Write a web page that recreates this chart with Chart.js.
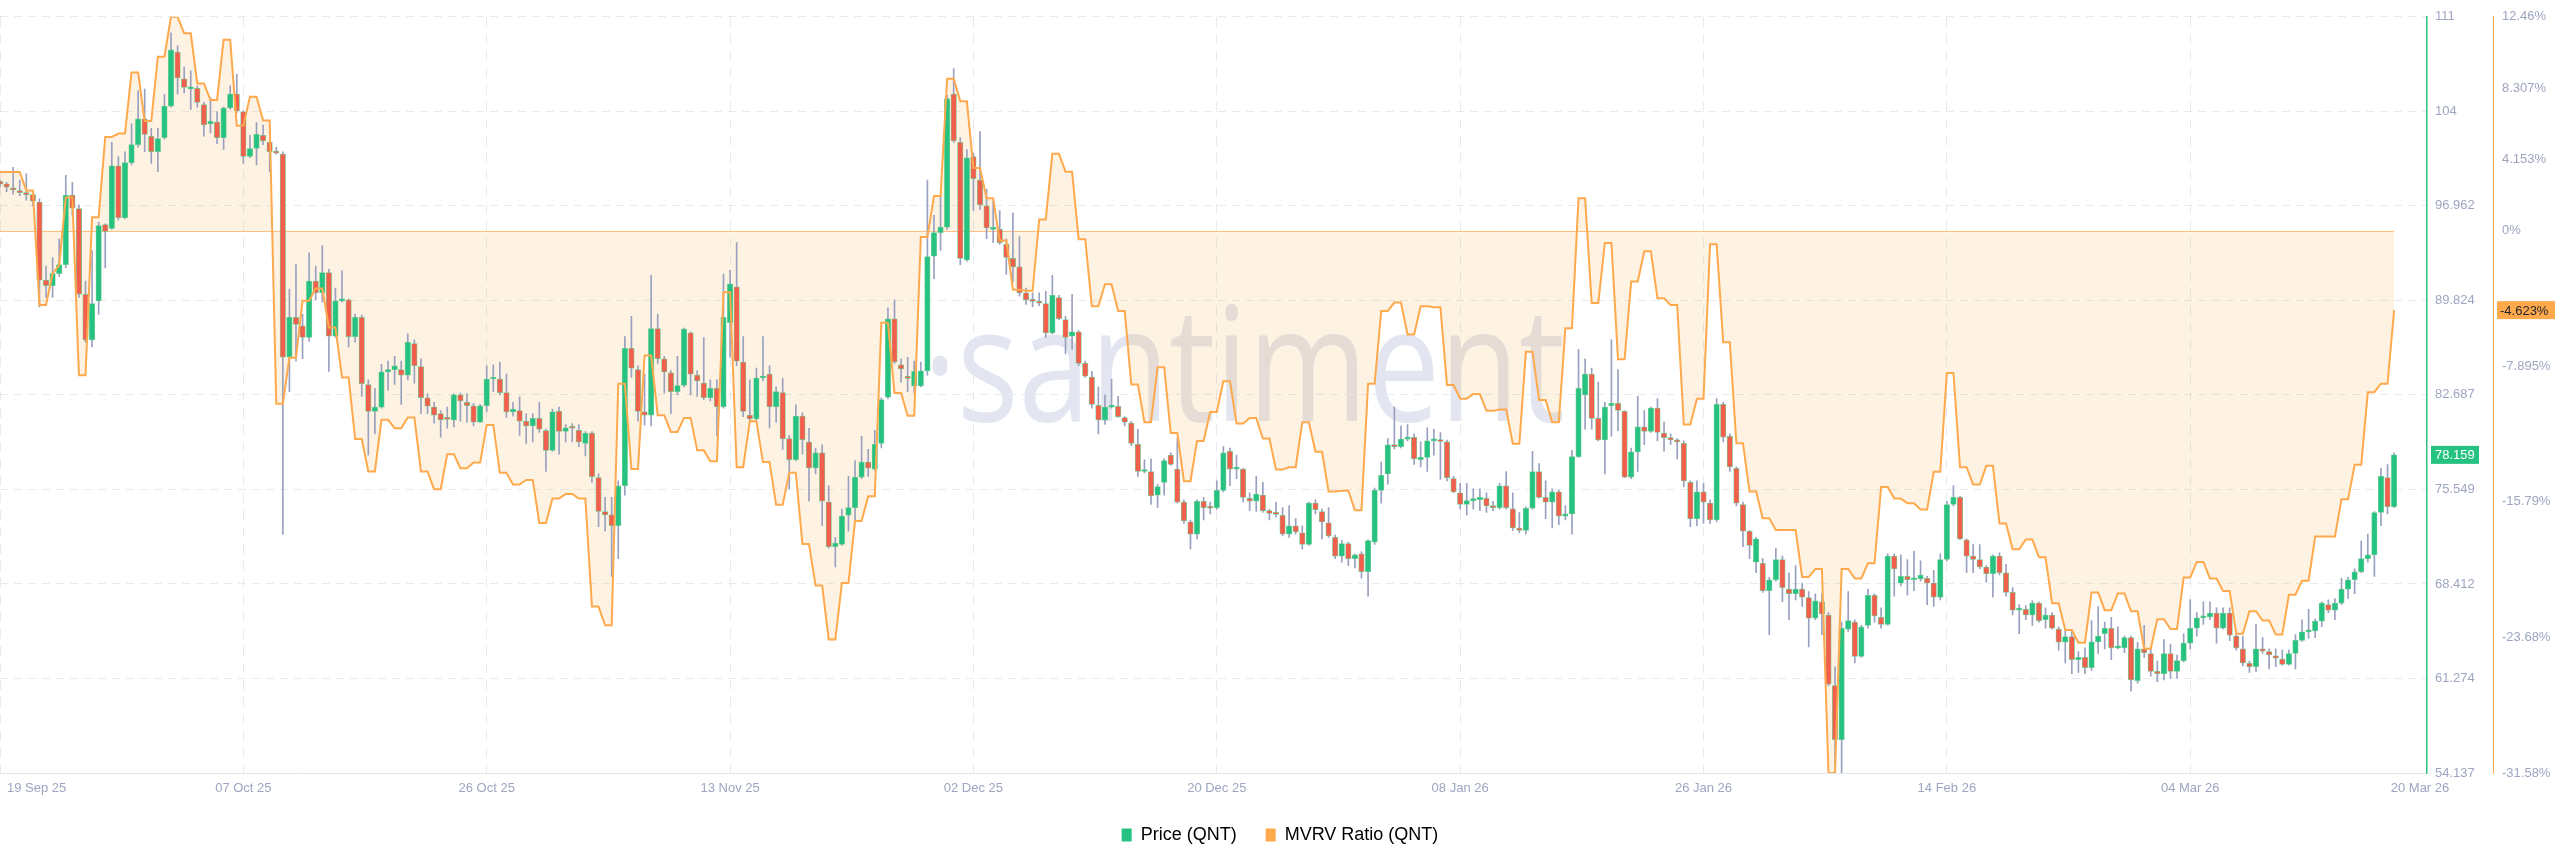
<!DOCTYPE html>
<html>
<head>
<meta charset="utf-8">
<title>QNT Price and MVRV Ratio</title>
<script src="https://cdn.jsdelivr.net/npm/chart.js@4.4.1/dist/chart.umd.min.js"></script>
<style>
  html, body { margin: 0; padding: 0; background: #ffffff; }
  #wrap { width: 2560px; height: 867px; }
  canvas { display: block; }
</style>
</head>
<body>
<div id="wrap"><canvas id="chart" width="2560" height="867"></canvas></div>
<script>
// --- Data: 12h candles, 19 Sep 25 -> 20 Mar 26 ---
const openPrice = [
  98.81,98.63,98.31,98.10,97.96,97.81,97.25,91.35,90.93,91.85,
  92.52,97.78,96.75,90.29,86.84,89.79,95.54,95.26,99.98,96.07,
  100.23,101.58,103.53,102.22,101.05,102.11,104.49,108.57,106.55,105.80,
  105.84,104.60,103.14,103.28,102.11,104.35,105.41,104.06,100.69,101.29,
  102.29,101.76,101.05,100.87,85.53,88.55,87.91,87.02,91.28,90.39,
  91.92,87.13,89.79,89.86,87.09,88.55,83.47,81.44,81.76,84.43,
  84.60,84.60,84.18,86.56,84.82,82.47,81.76,81.27,80.98,80.80,
  82.69,82.12,81.87,80.63,81.87,83.89,83.89,82.86,81.41,81.51,
  80.70,80.34,80.91,79.99,78.50,81.44,79.92,80.27,80.02,79.03,
  79.81,76.44,73.88,73.63,72.81,75.83,86.20,84.60,81.41,81.16,
  87.69,85.42,84.36,82.93,83.40,87.37,84.18,83.58,82.47,83.19,
  81.80,88.15,90.85,85.17,81.16,80.88,83.96,84.25,81.80,82.86,
  79.38,77.79,81.09,79.13,77.18,78.32,74.59,71.22,71.39,73.60,
  74.17,76.47,77.61,77.08,79.03,82.51,88.44,84.96,84.04,83.36,
  83.36,84.50,93.16,94.94,95.36,105.41,101.76,92.88,100.69,98.91,
  96.96,95.19,95.19,94.05,92.99,92.35,90.39,89.86,89.72,89.58,
  87.37,90.04,88.37,87.13,87.45,85.07,84.04,81.90,80.80,81.76,
  81.83,80.98,80.56,78.96,76.90,76.90,75.12,76.08,78.14,77.08,
  74.59,73.10,72.18,74.66,74.17,74.17,75.48,78.43,77.08,77.08,
  74.88,74.66,75.12,73.95,73.74,73.60,72.18,72.81,72.28,71.39,
  74.52,73.88,73.03,71.93,70.51,71.46,70.33,70.68,69.33,71.57,
  75.48,76.72,78.92,78.78,79.35,79.49,77.79,77.97,79.21,79.28,
  79.14,76.37,75.30,74.41,74.70,74.77,74.88,74.31,74.17,75.83,
  74.09,72.64,72.46,74.13,76.90,74.95,74.59,75.37,73.53,73.70,
  78.03,82.69,84.25,80.91,79.28,81.87,82.05,81.44,76.47,78.39,
  80.27,79.92,81.69,79.81,79.46,79.28,79.03,76.08,73.35,75.37,
  74.52,73.24,81.97,79.56,77.15,74.41,72.39,70.05,69.97,67.91,
  68.73,70.26,68.02,67.67,68.02,67.38,65.82,67.06,66.07,60.74,
  56.66,65.00,65.53,62.94,65.29,67.56,65.89,65.36,70.51,68.48,
  68.98,68.73,68.80,68.84,68.48,67.42,70.26,74.41,74.95,71.75,
  70.51,70.26,69.69,69.19,70.51,69.26,67.77,66.43,66.50,66.07,
  66.96,65.71,66.07,65.00,64.01,64.43,62.69,62.87,62.09,64.04,
  64.65,65.07,63.58,63.58,64.36,61.10,63.51,63.16,61.81,61.63,
  63.16,61.81,62.62,63.94,65.07,65.85,65.92,66.21,65.07,66.21,
  64.47,63.51,62.41,62.16,63.51,63.30,62.98,62.73,62.34,63.16,
  64.15,64.79,64.86,65.61,66.85,66.43,66.96,68.02,68.73,69.33,
  70.33,70.61,73.81,76.44,74.24
];
const highPrice = [
  98.91,98.74,99.87,98.91,99.38,98.03,97.49,92.42,93.06,94.48,
  99.27,98.74,97.03,91.28,93.59,95.72,95.61,101.76,100.69,101.05,
  103.18,105.66,105.77,102.82,102.82,105.38,110.03,109.04,107.44,107.15,
  106.02,104.77,105.13,104.06,104.42,106.02,106.91,104.13,102.29,103.25,
  103.07,101.83,101.40,101.05,90.68,92.52,88.79,93.41,92.42,93.94,
  92.17,90.75,92.06,89.93,88.79,88.72,83.82,83.19,84.99,85.24,
  85.60,85.24,87.30,86.84,85.42,82.76,82.12,81.51,81.76,82.76,
  82.83,82.76,82.05,81.98,84.89,84.96,85.17,84.25,82.12,82.54,
  81.27,81.27,82.12,80.09,81.62,81.76,80.45,80.52,80.45,79.92,
  79.92,76.72,74.95,74.95,76.19,87.09,88.62,84.89,84.25,91.71,
  88.79,85.60,84.53,85.60,87.73,87.45,84.53,87.02,83.82,83.82,
  91.81,92.10,94.19,87.09,83.82,84.71,87.09,84.89,83.29,83.93,
  79.63,81.94,81.34,80.17,78.68,78.92,75.83,71.93,74.06,76.54,
  77.72,79.56,78.57,80.02,82.47,89.26,89.86,85.42,85.53,85.24,
  85.17,98.91,96.25,97.74,105.31,107.33,102.11,101.22,100.94,102.57,
  98.20,97.32,96.61,94.48,96.43,94.65,90.75,90.39,90.39,90.50,
  91.71,90.21,88.62,90.29,87.55,85.24,84.46,83.29,82.69,83.89,
  82.58,81.05,80.70,80.09,77.79,77.86,75.94,77.86,78.32,79.38,
  74.77,73.24,74.77,74.95,74.59,76.19,78.78,78.68,78.14,77.15,
  75.30,76.54,76.08,74.06,74.59,74.17,74.31,73.35,72.81,74.59,
  74.77,74.06,74.17,72.11,71.68,71.57,70.68,70.86,71.75,75.66,
  77.61,79.38,81.76,80.34,80.45,79.74,79.14,80.20,80.09,79.85,
  79.28,76.54,76.01,76.01,75.59,75.59,75.30,74.66,76.01,76.90,
  75.30,73.81,74.24,78.43,77.50,76.19,75.59,75.48,74.31,78.50,
  86.13,85.42,84.71,83.65,82.12,86.84,84.60,81.51,78.68,82.58,
  81.51,81.76,82.40,80.63,79.74,79.38,79.21,76.19,76.19,76.01,
  74.77,82.40,82.12,79.74,77.25,74.59,72.46,71.93,70.33,68.91,
  71.11,70.51,69.26,69.80,68.48,67.84,67.67,67.67,66.25,62.16,
  65.53,67.84,65.71,65.29,68.02,67.67,66.60,70.68,70.68,70.61,
  70.26,70.90,70.15,68.98,69.44,70.68,74.66,75.83,75.02,71.82,
  71.39,71.39,69.80,70.61,70.76,69.90,68.13,66.85,66.78,67.14,
  67.06,66.60,66.25,65.18,64.83,64.83,63.30,63.58,65.64,66.71,
  65.53,65.89,65.18,64.47,64.47,64.01,65.29,63.51,62.59,64.22,
  63.87,63.05,64.65,67.21,66.25,67.06,67.06,66.60,66.60,66.60,
  64.65,64.47,62.59,65.36,64.36,63.51,63.51,63.41,63.41,64.58,
  65.71,66.50,65.78,67.06,67.21,67.31,68.84,68.91,69.55,71.64,
  72.18,73.88,77.15,77.43,78.32
];
const lowPrice = [
  98.38,98.03,97.85,97.74,97.39,96.96,89.33,90.04,90.04,91.64,
  92.28,96.25,90.04,86.66,86.31,88.79,92.28,95.19,95.90,96.00,
  100.05,101.40,101.05,100.16,99.55,102.00,104.42,105.41,105.48,104.24,
  104.42,102.22,102.47,101.65,101.22,104.24,103.99,100.16,100.60,100.05,
  101.58,99.52,100.87,72.18,82.93,85.25,85.42,86.74,89.86,89.68,
  84.46,87.02,89.68,86.31,86.66,82.58,78.14,79.74,81.69,83.04,
  83.47,81.97,83.82,83.58,81.27,81.27,80.56,79.49,80.17,80.27,
  80.70,80.63,80.34,80.60,81.41,82.93,82.69,80.98,81.09,79.63,
  79.03,79.14,79.85,76.90,78.43,78.21,79.14,79.14,78.78,78.07,
  76.08,72.74,72.39,68.98,70.33,75.12,84.00,80.70,80.41,80.34,
  85.07,82.83,81.27,82.69,83.29,82.69,82.58,82.33,82.23,79.63,
  81.69,85.53,84.89,81.05,80.63,80.80,83.75,80.20,80.63,78.57,
  75.59,77.72,78.21,74.66,76.72,72.81,71.11,69.69,71.32,72.39,
  73.17,76.37,76.54,77.01,78.68,82.40,85.07,83.65,82.93,82.83,
  83.29,84.18,91.46,93.59,95.19,101.76,92.52,92.77,96.61,96.68,
  94.48,94.19,94.05,91.81,91.21,90.14,89.51,89.33,89.43,87.02,
  87.30,88.37,85.78,86.13,84.89,84.00,81.69,79.74,80.45,81.69,
  80.98,80.34,78.85,76.54,76.79,74.41,74.17,75.12,77.36,74.52,
  72.99,71.04,71.82,73.24,73.70,74.06,75.37,75.83,76.37,74.59,
  73.95,73.88,73.81,73.24,73.45,72.04,71.93,72.18,71.04,71.32,
  73.70,71.82,71.93,70.33,70.05,69.80,69.62,68.84,67.49,71.39,
  74.52,75.94,78.60,78.68,79.21,77.43,77.25,76.90,78.14,76.30,
  76.19,75.30,74.06,73.60,74.06,73.95,73.81,73.95,74.06,74.06,
  72.46,72.28,72.18,74.06,74.88,73.35,72.64,72.89,73.24,72.18,
  77.96,80.09,80.09,79.21,76.72,79.56,79.99,76.44,76.37,76.90,
  78.92,79.85,79.21,78.43,78.92,77.86,75.73,72.74,72.81,73.00,
  72.99,73.10,79.14,76.90,74.31,71.22,70.33,69.26,67.77,64.58,
  68.62,67.07,65.71,67.21,66.71,63.65,65.71,64.58,60.74,54.70,
  54.14,64.83,62.45,62.87,65.07,65.53,65.07,65.29,67.49,68.27,
  67.56,67.91,68.62,66.85,66.71,67.21,70.15,74.31,71.75,69.26,
  69.26,69.55,68.55,67.42,69.09,67.49,66.07,64.65,65.71,65.29,
  65.53,65.07,65.00,63.41,62.45,61.63,61.74,61.63,61.88,63.16,
  63.51,62.69,63.51,63.23,60.32,60.92,62.87,61.45,61.03,61.17,
  61.28,61.28,62.52,63.51,64.47,65.36,65.71,63.94,65.00,64.12,
  63.41,62.23,61.74,61.81,63.16,61.99,62.16,62.27,62.27,61.99,
  64.08,64.29,64.36,65.18,66.25,65.71,66.85,67.31,67.67,69.26,
  70.05,68.98,72.81,73.70,74.17
];
const closePrice = [
  98.60,98.38,98.17,97.96,97.81,97.32,91.35,90.93,91.85,92.52,
  97.78,96.78,90.29,86.84,89.58,95.47,95.04,99.98,96.07,100.23,
  101.58,103.53,102.36,101.05,102.04,104.49,108.75,106.62,105.91,105.91,
  104.77,103.07,103.35,102.11,104.35,105.41,104.13,100.69,101.29,102.36,
  101.86,101.05,100.94,85.53,88.55,88.01,87.02,91.28,90.39,91.92,
  87.13,89.79,89.86,87.09,88.55,83.54,81.44,81.76,84.43,84.60,
  84.89,84.18,86.66,84.89,82.47,81.83,81.16,80.80,80.84,82.69,
  82.23,81.87,80.63,81.87,83.89,83.96,82.86,81.41,81.59,80.70,
  80.34,80.91,80.09,78.50,81.41,79.92,80.20,80.17,79.14,79.81,
  76.51,73.88,73.63,72.81,75.83,86.20,84.71,81.44,81.16,87.69,
  85.42,84.43,82.93,83.40,87.66,84.25,83.75,82.47,83.19,81.80,
  88.55,91.07,85.24,81.44,80.88,83.96,84.11,81.80,82.93,79.38,
  77.79,81.09,79.31,77.18,78.32,74.66,71.22,71.50,73.53,74.17,
  76.47,77.61,77.15,78.96,82.33,88.44,85.17,84.64,83.93,84.46,
  84.50,93.13,94.94,95.36,105.06,101.86,92.99,100.58,99.02,97.03,
  95.29,95.26,94.19,93.06,92.35,90.39,89.86,89.75,89.61,87.37,
  90.21,88.44,87.02,87.45,85.07,84.11,81.97,80.80,81.76,81.87,
  81.05,80.63,79.03,76.90,76.97,75.05,75.76,77.72,77.43,74.59,
  73.17,72.18,74.66,74.17,74.13,75.48,78.32,77.08,77.15,74.95,
  74.66,75.19,73.95,73.74,73.67,72.18,72.81,72.35,71.39,74.52,
  74.02,73.10,72.04,70.51,71.46,70.33,70.61,69.33,71.68,75.48,
  76.62,78.92,78.78,79.35,79.49,77.86,77.97,79.21,79.28,79.17,
  76.44,75.37,74.41,74.70,74.80,74.95,74.31,74.17,75.83,74.17,
  72.64,72.46,74.13,76.90,74.95,74.59,75.37,73.53,73.70,78.03,
  83.19,84.25,80.91,79.28,81.76,82.05,81.51,76.47,78.39,80.27,
  79.92,81.69,79.85,79.46,79.28,79.14,76.19,73.35,75.37,74.59,
  73.24,81.97,79.49,77.25,74.52,72.39,71.32,71.82,67.91,68.73,
  70.26,68.13,67.67,68.02,67.42,65.82,67.14,66.14,60.85,56.66,
  65.07,65.64,62.94,65.18,67.56,66.00,65.36,70.51,69.55,68.98,
  68.73,68.80,69.09,68.48,67.42,70.26,74.41,74.95,71.82,70.51,
  70.26,69.69,69.19,70.51,69.26,67.77,66.43,66.50,66.07,66.96,
  65.64,66.07,65.07,64.01,64.43,62.69,62.87,62.09,64.04,64.47,
  65.07,63.58,63.62,64.36,61.17,63.51,63.23,61.81,61.63,63.16,
  61.81,62.62,63.94,65.07,65.85,65.92,66.21,65.07,66.21,64.54,
  63.58,62.45,62.16,63.51,63.33,63.05,62.80,62.34,63.16,64.15,
  64.79,64.86,65.61,66.96,66.43,66.96,68.02,68.73,69.33,70.33,
  70.61,73.81,76.54,74.24,78.159
];
// MVRV ratio in %, daily values sitting on the 12h grid
const mvrvRatio = [
  3.42,3.42,3.42,3.42,2.35,2.35,-4.32,-4.32,-2.49,-2.02,1.94,1.94,-8.42,-8.42,0.79,0.79,5.46,5.46,5.66,5.66,
  9.21,9.21,6.39,6.39,10.14,10.14,12.46,12.46,11.5,11.5,8.58,8.58,7.62,7.62,11.12,11.12,6.12,6.12,7.81,7.81,
  6.42,6.42,-10.08,-10.08,-7.4,-7.4,-4.07,-4.07,-3.36,-3.36,-5.63,-5.63,-8.55,-8.55,-12.13,-12.13,-14.02,-14.02,-11.01,-11.01,
  -11.5,-11.5,-10.87,-10.87,-14.02,-14.02,-15.05,-15.05,-13.01,-13.01,-13.83,-13.83,-13.5,-13.5,-11.31,-11.31,-14.1,-14.1,-14.78,-14.78,
  -14.51,-14.51,-17.02,-17.02,-15.6,-15.6,-15.33,-15.33,-15.6,-15.6,-21.89,-21.89,-22.98,-22.98,-8.91,-8.91,-13.88,-13.88,-7.27,-7.27,
  -10.74,-10.74,-11.72,-11.72,-10.9,-10.9,-12.79,-12.79,-13.42,-13.42,-3.58,-3.58,-13.77,-13.77,-11.09,-11.09,-13.47,-13.47,-15.96,-15.96,
  -14.1,-14.1,-18.25,-18.25,-20.66,-20.66,-23.8,-23.8,-20.52,-20.52,-16.91,-16.91,-15.46,-15.46,-5.36,-5.36,-9.45,-9.45,-10.77,-10.77,
  -0.36,-0.36,2.02,2.02,8.85,8.85,7.54,7.54,3.66,3.66,1.89,1.89,-0.57,-0.57,-3.44,-3.44,-3.5,-3.5,0.66,0.66,
  4.48,4.48,3.44,3.44,-0.49,-0.49,-4.4,-4.4,-3.11,-3.11,-4.67,-4.67,-8.96,-8.96,-11.15,-11.15,-7.95,-7.95,-11.78,-11.78,
  -14.59,-14.59,-12.24,-12.24,-10.55,-10.55,-8.77,-8.77,-11.23,-11.23,-10.9,-10.9,-12.1,-12.1,-13.91,-13.91,-13.77,-13.77,-11.15,-11.15,
  -12.87,-12.87,-15.19,-15.19,-15.14,-15.14,-16.28,-16.28,-8.91,-8.91,-4.67,-4.67,-4.18,-4.18,-6.04,-6.04,-4.4,-4.4,-4.45,-4.45,
  -8.99,-8.99,-9.78,-9.78,-9.51,-9.51,-10.49,-10.49,-10.41,-10.41,-12.4,-12.4,-7.05,-7.05,-9.86,-9.86,-11.15,-11.15,-5.68,-5.68,
  1.89,1.89,-4.21,-4.21,-0.71,-0.71,-7.49,-7.49,-2.95,-2.95,-1.2,-1.2,-3.93,-3.93,-4.32,-4.32,-11.28,-11.28,-9.78,-9.78,
  -0.79,-0.79,-6.5,-6.5,-12.38,-12.38,-15.19,-15.19,-16.75,-16.75,-17.43,-17.43,-17.43,-17.43,-20.16,-20.16,-19.7,-19.7,-31.58,-31.58,
  -19.7,-19.7,-20.25,-20.25,-19.37,-19.37,-14.92,-14.92,-15.6,-15.6,-15.87,-15.87,-16.23,-16.23,-14.04,-14.04,-8.28,-8.28,-13.77,-13.77,
  -14.78,-14.78,-13.69,-13.69,-17.05,-17.05,-18.55,-18.55,-17.98,-17.98,-19.02,-19.02,-21.69,-21.69,-23.25,-23.25,-23.99,-23.99,-21.07,-21.07,
  -22.1,-22.1,-21.12,-21.12,-22.16,-22.16,-24.34,-24.34,-22.62,-22.62,-23.2,-23.2,-20.19,-20.19,-19.29,-19.29,-20.25,-20.25,-20.98,-20.98,
  -23.47,-23.47,-22.16,-22.16,-22.7,-22.7,-23.52,-23.52,-21.2,-21.2,-20.38,-20.38,-17.81,-17.81,-17.81,-17.81,-15.63,-15.63,-13.63,-13.63,
  -9.4,-9.4,-8.91,-8.91,-4.623
];

// x ticks: candle index and the date shown under it
const tickIndex = [0, 37, 74, 111, 148, 185, 222, 259, 296, 333, 364];
const tickLabels = ['19 Sep 25', '07 Oct 25', '26 Oct 25', '13 Nov 25', '02 Dec 25', '20 Dec 25',
                    '08 Jan 26', '26 Jan 26', '14 Feb 26', '04 Mar 26', '20 Mar 26'];
const priceTicks = [54.137, 61.274, 68.412, 75.549, 82.687, 89.824, 96.962, 104.099, 111.237];
const mvrvTicks = [-31.58, -23.68, -15.79, -7.895, 0, 4.153, 8.307, 12.46];

// --- Styles ---
const GREEN = '#26c281';
const RED = '#f2604d';
const ORANGE = '#ffa94d';
const WICK = '#9aa0bf';
const AXIS_TEXT = '#9ea5c1';
const GRID = '#e8eaf2';

Chart.defaults.font.family = '"Liberation Sans", Arial, sans-serif';

function createChart() {
    const last = closePrice.length - 1;
    const bodyColors = openPrice.map((o, i) => closePrice[i] >= o ? GREEN : RED);

    // white background + santiment watermark, under everything
    const backgroundPlugin = {
        id: 'background',
        beforeDraw: (chart) => {
            const { ctx, width, height } = chart;
            ctx.save();
            ctx.fillStyle = '#ffffff';
            ctx.fillRect(0, 0, width, height);
            ctx.font = '400 160px "Open Sans"';
            ctx.fillStyle = '#e3e6f0';
            ctx.textBaseline = 'alphabetic';
            ctx.textAlign = 'left';
            const word = 'santiment';
            const wordW = ctx.measureText(word).width;
            const dotW = ctx.measureText('\u00b7').width;
            const sx = 608 / wordW;
            ctx.translate(957, 421);
            ctx.scale(sx, 1);
            ctx.fillText('\u00b7' + word, -dotW, 0);
            ctx.restore();
        }
    };

    // thin orange line at MVRV = 0 (the fill baseline)
    const zeroLinePlugin = {
        id: 'zeroLine',
        beforeDatasetsDraw: (chart) => {
            const { ctx, chartArea, scales: { x, y1 } } = chart;
            const yPix = Math.round(y1.getPixelForValue(0)) + 0.5;
            const xEnd = x.getPixelForValue(last);
            ctx.save();
            ctx.strokeStyle = '#ffbf80';
            ctx.lineWidth = 1;
            ctx.beginPath();
            ctx.moveTo(chartArea.left, yPix);
            ctx.lineTo(xEnd, yPix);
            ctx.stroke();
            ctx.restore();
        }
    };

    // date labels under the x axis + last value badges on both y axes
    const labelsPlugin = {
        id: 'axisLabels',
        afterDraw: (chart) => {
            const { ctx, chartArea, scales: { x, y, y1 } } = chart;
            ctx.save();
            ctx.font = '13px "Liberation Sans", Arial, sans-serif';
            ctx.fillStyle = AXIS_TEXT;
            ctx.textBaseline = 'middle';
            const ly = chartArea.bottom + 15;
            tickIndex.forEach((idx, i) => {
                let px = x.getPixelForValue(idx);
                if (i === 0) {
                    ctx.textAlign = 'left';
                    px += 7;
                } else if (i === tickIndex.length - 1) {
                    ctx.textAlign = 'center';
                    px = chartArea.right - 7;
                } else {
                    ctx.textAlign = 'center';
                }
                ctx.fillText(tickLabels[i], px, ly);
            });

            // price badge
            const py = y.getPixelForValue(closePrice[last]);
            ctx.fillStyle = GREEN;
            ctx.fillRect(y.left + 4, py - 9, 48, 18);
            ctx.fillStyle = '#ffffff';
            ctx.textAlign = 'left';
            ctx.fillText(closePrice[last].toFixed(3), y.left + 8, py + 1);

            // mvrv badge
            const my = y1.getPixelForValue(mvrvRatio[last]);
            ctx.fillStyle = ORANGE;
            ctx.fillRect(y1.left + 4, my - 9, 58, 18);
            ctx.fillStyle = '#1f2330';
            ctx.fillText(mvrvRatio[last].toFixed(3) + '%', y1.left + 7, my + 1);
            ctx.restore();
        }
    };

    new Chart(document.getElementById('chart'), {
        type: 'line',
        data: {
            datasets: [
                {
                    type: 'bar',
                    label: 'wick',
                    data: lowPrice.map((l, i) => ({ x: i, y: [l, highPrice[i]] })),
                    yAxisID: 'y',
                    backgroundColor: WICK,
                    barThickness: 1,
                    grouped: false,
                    order: 2
                },
                {
                    type: 'bar',
                    label: 'Price (QNT)',
                    data: openPrice.map((o, i) => ({ x: i, y: [o, closePrice[i]] })),
                    yAxisID: 'y',
                    backgroundColor: bodyColors,
                    borderColor: 'rgba(90, 200, 130, 0.8)',
                    borderWidth: 0.75,
                    borderSkipped: false,
                    barThickness: 5.5,
                    minBarLength: 2,
                    grouped: false,
                    order: 1
                },
                {
                    type: 'line',
                    label: 'MVRV Ratio (QNT)',
                    data: mvrvRatio.map((v, i) => ({ x: i, y: v })),
                    yAxisID: 'y1',
                    borderColor: ORANGE,
                    borderWidth: 2,
                    backgroundColor: 'rgba(250, 160, 60, 0.14)',
                    fill: { value: 0 },
                    pointRadius: 0,
                    tension: 0,
                    order: 0
                }
            ]
        },
        options: {
            responsive: false,
            animation: false,
            devicePixelRatio: 1,
            events: [],
            layout: { padding: { top: 9, bottom: 13, left: 0, right: 0 } },
            plugins: {
                tooltip: { enabled: false },
                filler: { drawTime: 'beforeDatasetsDraw' },
                legend: {
                    position: 'bottom',
                    labels: {
                        boxWidth: 10,
                        boxHeight: 13,
                        padding: 29,
                        color: '#2b2f3c',
                        font: { size: 18 },
                        generateLabels: (chart) => [
                            { text: chart.data.datasets[1].label, fillStyle: GREEN, strokeStyle: GREEN, lineWidth: 0, hidden: false, datasetIndex: 1 },
                            { text: chart.data.datasets[2].label, fillStyle: ORANGE, strokeStyle: ORANGE, lineWidth: 0, hidden: false, datasetIndex: 2 }
                        ]
                    }
                }
            },
            scales: {
                x: {
                    type: 'linear',
                    min: 0,
                    max: 369,
                    offset: false,
                    afterBuildTicks: (s) => { s.ticks = tickIndex.slice(0, -1).map(v => ({ value: v })); },
                    afterFit: (s) => { s.height = 24; },
                    ticks: { display: false },
                    grid: { color: GRID, drawTicks: false, offset: false },
                    border: { display: true, color: '#e2e4ee', width: 1, dash: [10, 7] }
                },
                y: {
                    position: 'right',
                    weight: 0,
                    min: 54.137,
                    max: 111.237,
                    afterBuildTicks: (s) => { s.ticks = priceTicks.map(v => ({ value: v })); },
                    afterFit: (s) => { s.width = 66; },
                    ticks: {
                        color: AXIS_TEXT,
                        font: { size: 13 },
                        padding: 8,
                        callback: (v) => v >= 100 ? String(Math.round(v)) : v.toFixed(3)
                    },
                    grid: { color: GRID, drawTicks: false },
                    border: { display: true, color: '#2ec27e', width: 1.5, dash: [8, 6] }
                },
                y1: {
                    position: 'right',
                    weight: 1,
                    min: -31.58,
                    max: 12.46,
                    afterBuildTicks: (s) => { s.ticks = mvrvTicks.map(v => ({ value: v })); },
                    afterFit: (s) => { s.width = 67; },
                    ticks: {
                        color: AXIS_TEXT,
                        font: { size: 13 },
                        padding: 9,
                        callback: (v) => v + '%'
                    },
                    grid: { drawOnChartArea: false, drawTicks: false },
                    border: { display: true, color: ORANGE, width: 1 }
                }
            }
        },
        plugins: [backgroundPlugin, zeroLinePlugin, labelsPlugin]
    });
}

createChart();
</script>
</body>
</html>
